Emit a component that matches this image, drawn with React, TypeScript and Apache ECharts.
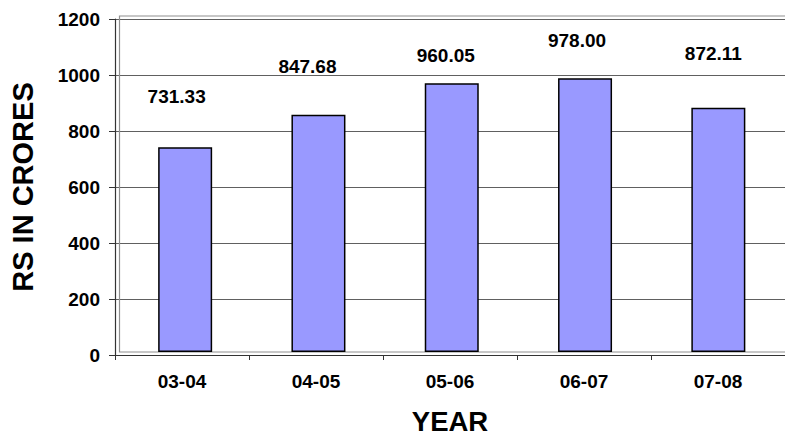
import React, { useEffect, useRef } from "react";
import * as echarts from "echarts";

const years = ["03-04", "04-05", "05-06", "06-07", "07-08"];
const values = [731.33, 847.68, 960.05, 978.0, 872.11];
const yTicks = [0, 200, 400, 600, 800, 1000, 1200];
const yTitle = "RS IN CRORES";
const xTitle = "YEAR";

// label placement tweaks (pixel offsets of the floating data labels)
const labelOffsets: [number, number][] = [
  [-8.5, -41.5],
  [-11, -39],
  [-6, -18],
  [-8, -28.5],
  [-5, -45],
];

const FONT = "'Liberation Sans', Arial, sans-serif";

export default function App() {
  const ref = useRef<HTMLDivElement>(null);
  useEffect(() => {
    document.body.style.margin = "0";
    if (!ref.current) return;
    const chart = echarts.init(ref.current, undefined, { renderer: "svg" });
    const gridLeft = 115;
    const gridTop = 19;
    const gridW = 676;
    const gridH = 336;
    chart.setOption({
      animation: false,
      backgroundColor: "#ffffff",
      textStyle: { fontFamily: FONT },
      grid: [
        { left: gridLeft, top: gridTop, width: gridW, height: gridH },
        { left: gridLeft + 3.5, top: gridTop - 3, width: gridW, height: gridH },
      ],
      xAxis: [
        {
          type: "category",
          gridIndex: 0,
          data: years,
          name: xTitle,
          nameLocation: "middle",
          nameGap: 52,
          nameTextStyle: { fontSize: 27.5, fontWeight: "bold", color: "#000", fontFamily: FONT },
          axisLine: { lineStyle: { color: "#333333", width: 1.2 } },
          axisTick: { show: true, length: 5, lineStyle: { color: "#333333" } },
          axisLabel: { fontSize: 19, fontWeight: "bold", color: "#000", margin: 17, fontFamily: FONT },
          splitLine: { show: false },
        },
        {
          type: "category",
          gridIndex: 1,
          data: years,
          show: false,
        },
      ],
      yAxis: [
        {
          type: "value",
          gridIndex: 0,
          min: yTicks[0],
          max: yTicks[yTicks.length - 1],
          interval: yTicks[1] - yTicks[0],
          name: yTitle,
          nameLocation: "middle",
          nameGap: 78,
          nameTextStyle: { fontSize: 29, fontWeight: "bold", color: "#000", fontFamily: FONT },
          axisLine: { show: true, lineStyle: { color: "#333333", width: 1.2 } },
          axisTick: { show: true, length: 6, lineStyle: { color: "#333333" } },
          axisLabel: {
            fontSize: 19,
            fontWeight: "bold",
            color: "#000",
            margin: 15,
            fontFamily: FONT,
            formatter: (v: number) => String(v),
          },
          splitLine: { show: true, lineStyle: { color: "#606060", width: 1.2 } },
        },
        {
          type: "value",
          gridIndex: 1,
          min: yTicks[0],
          max: yTicks[yTicks.length - 1],
          interval: yTicks[1] - yTicks[0],
          show: false,
          splitLine: { show: false },
        },
      ],
      graphic: [
        {
          type: "rect",
          shape: { x: gridLeft + 4.5, y: gridTop - 3, width: 700, height: gridH },
          style: { fill: "none", stroke: "#909090", lineWidth: 1.2 },
          silent: true,
          z: 1,
        },
      ],
      series: [
        {
          type: "bar",
          xAxisIndex: 1,
          yAxisIndex: 1,
          data: values.map((v, i) => ({
            value: v,
            label: { offset: labelOffsets[i] },
          })),
          barWidth: 54,
          itemStyle: { color: "#9999ff", borderColor: "#000", borderWidth: 1.5 },
          label: {
            show: true,
            position: "top",
            distance: 0,
            fontSize: 19,
            fontWeight: "bold",
            color: "#000",
            fontFamily: FONT,
            formatter: (p: any) => Number(p.value).toFixed(2),
          },
          z: 3,
        },
      ],
    });
    return () => chart.dispose();
  }, []);
  return <div ref={ref} style={{ width: 785, height: 441 }} />;
}
